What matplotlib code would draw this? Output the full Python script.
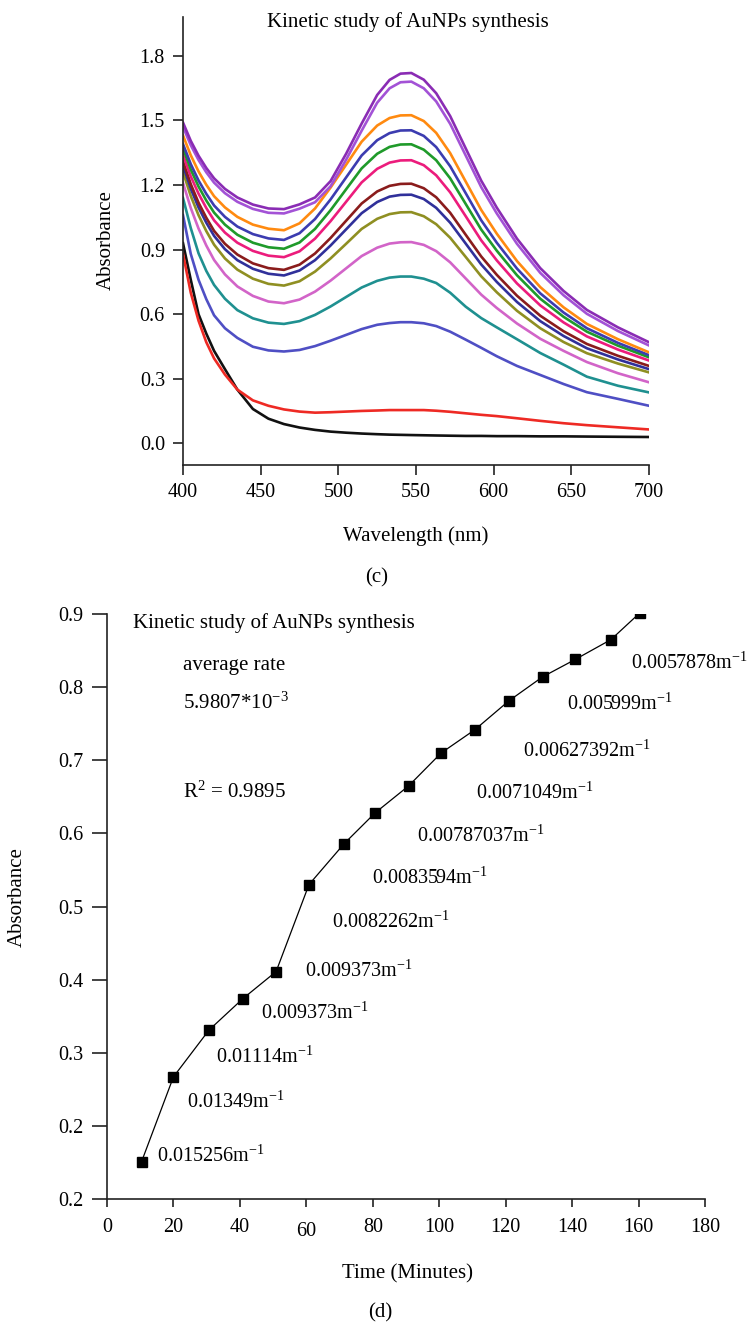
import matplotlib
matplotlib.use("Agg")
import matplotlib.pyplot as plt
import matplotlib.transforms as mtransforms

plt.rcParams['font.family'] = ['Liberation Serif', 'DejaVu Serif']
plt.rcParams['mathtext.fontset'] = 'custom'
plt.rcParams['mathtext.rm'] = 'Liberation Serif'
plt.rcParams['mathtext.it'] = 'Liberation Serif:italic'

# ---- panel (c): UV-vis spectra ----
WAVELENGTH = [400, 405, 410, 415, 420, 427, 435, 445, 455, 465,
              475, 485, 495, 505, 515, 525, 533, 540, 547, 555,
              563, 572, 582, 592, 602, 615, 630, 645, 660, 680, 700]

black_spec = [0.93, 0.76, 0.60, 0.51, 0.43, 0.345, 0.25, 0.16, 0.115, 0.09,
              0.074, 0.063, 0.055, 0.05, 0.046, 0.043, 0.041, 0.04, 0.039, 0.038,
              0.037, 0.036, 0.035, 0.035, 0.034, 0.034, 0.033, 0.033, 0.032, 0.031, 0.03]
red_spec = [0.88, 0.70, 0.57, 0.47, 0.395, 0.32, 0.25, 0.20, 0.175, 0.158,
            0.148, 0.143, 0.145, 0.148, 0.151, 0.153, 0.155, 0.155, 0.155, 0.155,
            0.152, 0.147, 0.14, 0.133, 0.127, 0.117, 0.105, 0.094, 0.085, 0.075, 0.065]
slate_spec = [1.06, 0.88, 0.76, 0.67, 0.595, 0.535, 0.49, 0.449, 0.432, 0.427,
              0.434, 0.452, 0.477, 0.504, 0.531, 0.551, 0.559, 0.563, 0.563, 0.558,
              0.545, 0.519, 0.482, 0.444, 0.405, 0.36, 0.318, 0.276, 0.238, 0.207, 0.175]
teal_spec = [1.14, 1.0, 0.883, 0.801, 0.736, 0.672, 0.619, 0.581, 0.561, 0.555,
             0.568, 0.597, 0.636, 0.68, 0.724, 0.755, 0.77, 0.775, 0.775, 0.765,
             0.745, 0.70, 0.635, 0.582, 0.539, 0.484, 0.42, 0.366, 0.31, 0.268, 0.237]
orchid_spec = [1.21, 1.093, 0.998, 0.919, 0.852, 0.785, 0.729, 0.685, 0.659, 0.651,
               0.668, 0.705, 0.756, 0.813, 0.870, 0.909, 0.928, 0.934, 0.935, 0.922,
               0.893, 0.841, 0.766, 0.691, 0.629, 0.557, 0.486, 0.43, 0.378, 0.326, 0.284]
olive_spec = [1.26, 1.149, 1.06, 0.986, 0.923, 0.859, 0.807, 0.765, 0.741, 0.733,
              0.753, 0.798, 0.859, 0.927, 0.996, 1.043, 1.065, 1.073, 1.074, 1.055,
              1.018, 0.955, 0.866, 0.776, 0.702, 0.616, 0.535, 0.471, 0.419, 0.371, 0.33]
navy2_spec = [1.29, 1.183, 1.096, 1.025, 0.964, 0.902, 0.851, 0.811, 0.788, 0.78,
              0.803, 0.851, 0.919, 0.994, 1.069, 1.121, 1.146, 1.154, 1.155, 1.135,
              1.094, 1.025, 0.928, 0.831, 0.75, 0.657, 0.568, 0.499, 0.442, 0.39, 0.345]
maroon_spec = [1.31, 1.204, 1.118, 1.048, 0.987, 0.927, 0.877, 0.836, 0.814, 0.806,
               0.830, 0.882, 0.954, 1.034, 1.114, 1.170, 1.196, 1.205, 1.206, 1.185,
               1.143, 1.071, 0.969, 0.868, 0.783, 0.686, 0.593, 0.521, 0.462, 0.407, 0.36]
pink_spec = [1.34, 1.240, 1.160, 1.093, 1.036, 0.979, 0.932, 0.894, 0.872, 0.865,
             0.892, 0.951, 1.032, 1.122, 1.212, 1.275, 1.304, 1.314, 1.315, 1.292,
             1.245, 1.166, 1.055, 0.943, 0.85, 0.743, 0.641, 0.562, 0.497, 0.436, 0.385]
green_spec = [1.37, 1.272, 1.193, 1.128, 1.072, 1.016, 0.969, 0.932, 0.911, 0.904,
              0.933, 0.996, 1.083, 1.180, 1.277, 1.345, 1.377, 1.388, 1.389, 1.364,
              1.315, 1.231, 1.112, 0.993, 0.895, 0.781, 0.672, 0.588, 0.519, 0.454, 0.40]
navy1_spec = [1.39, 1.297, 1.221, 1.159, 1.105, 1.052, 1.007, 0.972, 0.952, 0.945,
              0.976, 1.042, 1.133, 1.235, 1.337, 1.408, 1.441, 1.453, 1.454, 1.428,
              1.376, 1.287, 1.162, 1.036, 0.932, 0.812, 0.697, 0.608, 0.535, 0.467, 0.41]
orange_spec = [1.43, 1.338, 1.263, 1.201, 1.148, 1.096, 1.052, 1.016, 0.997, 0.99,
               1.022, 1.091, 1.188, 1.294, 1.401, 1.476, 1.511, 1.523, 1.524, 1.497,
               1.442, 1.348, 1.216, 1.084, 0.974, 0.847, 0.726, 0.632, 0.555, 0.484, 0.423]
purple2_spec = [1.47, 1.385, 1.316, 1.259, 1.211, 1.162, 1.122, 1.089, 1.071, 1.068,
                1.090, 1.120, 1.194, 1.317, 1.452, 1.582, 1.649, 1.677, 1.68, 1.649,
                1.588, 1.484, 1.337, 1.19, 1.068, 0.927, 0.792, 0.688, 0.602, 0.522, 0.455]
purple1_spec = [1.49, 1.405, 1.336, 1.279, 1.231, 1.182, 1.142, 1.109, 1.091, 1.088,
                1.110, 1.142, 1.218, 1.345, 1.485, 1.618, 1.688, 1.717, 1.72, 1.689,
                1.626, 1.52, 1.37, 1.22, 1.095, 0.951, 0.814, 0.708, 0.62, 0.539, 0.47]

SPECTRA = [black_spec, red_spec, slate_spec, teal_spec, orchid_spec, olive_spec,
           navy2_spec, maroon_spec, pink_spec, green_spec, navy1_spec,
           orange_spec, purple2_spec, purple1_spec]
SPEC_COLORS = ['#111111', '#ee2a24', '#4f4fc4', '#1f9090', '#d264c8', '#8f8f22',
               '#30309a', '#8a1c1c', '#ec1c7c', '#1f9a2a', '#3c3cb0',
               '#ff8a10', '#a352d6', '#8a2cb4']

# ---- panel (d): kinetics ----
TIME_MIN = [10.4, 20.0, 30.7, 40.9, 50.9, 60.8, 71.4, 80.7, 90.8, 100.6,
            110.8, 120.9, 131.1, 141.0, 151.7, 160.5]
ABSORB = [0.151, 0.267, 0.331, 0.374, 0.411, 0.530, 0.586, 0.628, 0.665, 0.710,
          0.742, 0.781, 0.814, 0.838, 0.865, 0.902]

RATE_LABELS = ['0.015256', '0.01349', '0.01114', '0.009373', '0.009373',
               '0.0082262', '0.0083594', '0.00787037', '0.0071049',
               '0.00627392', '0.005999', '0.0057878']
RATE_POS = [(15.0, 0.158), (24.0, 0.233), (32.8, 0.294), (46.4, 0.354),
            (59.6, 0.412), (67.6, 0.479), (79.8, 0.539), (93.4, 0.596),
            (111.0, 0.655), (125.3, 0.713), (138.6, 0.777), (157.6, 0.8325)]

X_TICKS_D = [0, 20, 40, 60, 80, 100, 120, 140, 160, 180]
Y_TICKS_D = [0.1, 0.2, 0.3, 0.4, 0.5, 0.6, 0.7, 0.8, 0.9]
Y_TICKLABELS_D = ['0.2', '0.2', '0.3', '0.4', '0.5', '0.6', '0.7', '0.8', '0.9']

W, H = 751, 1322
FS = 15
TICK_FS = 14.5


def style_axes(ax, ytick_len, xtick_len):
    for side in ('top', 'right'):
        ax.spines[side].set_visible(False)
    for side in ('left', 'bottom'):
        ax.spines[side].set_linewidth(1.2)
        ax.spines[side].set_color('#222222')
    ax.tick_params(axis='y', direction='out', length=ytick_len, width=1.2,
                   pad=6, labelsize=TICK_FS, color='#222222')
    ax.tick_params(axis='x', direction='out', length=xtick_len, width=1.2,
                   pad=6, labelsize=TICK_FS, color='#222222')


fig = plt.figure(figsize=(W / 100, H / 100), dpi=100)

# panel (c)
ax1 = fig.add_axes([183 / W, 1 - 465 / H, 466 / W, 448 / H])
for spec, col in zip(SPECTRA, SPEC_COLORS):
    ax1.plot(WAVELENGTH, spec, color=col, lw=1.9, solid_joinstyle='round')
ax1.set_xlim(400, 700)
ax1.set_ylim(-0.1, 1.98)
ax1.set_xticks([400, 450, 500, 550, 600, 650, 700])
ax1.set_yticks([0.0, 0.3, 0.6, 0.9, 1.2, 1.5, 1.8])
ax1.set_yticklabels(['0.0', '0.3', '0.6', '0.9', '1.2', '1.5', '1.8'])
style_axes(ax1, 7, 7)
ax1.set_xlabel('Wavelength (nm)', fontsize=FS)
ax1.xaxis.set_label_coords(0.5, -0.136)
ax1.set_ylabel('Absorbance', fontsize=FS)
ax1.yaxis.set_label_coords(-0.144, 0.502)
fig.text(408 / W, 1 - 22 / H, 'Kinetic study of AuNPs synthesis',
         ha='center', va='center', fontsize=FS)
fig.text(377 / W, 1 - 578 / H, '(c)', ha='center', va='center', fontsize=FS)

# panel (d)
ax2 = fig.add_axes([107 / W, 1 - 1199 / H, 598 / W, 585 / H])
ax2.plot(TIME_MIN, ABSORB, color='black', lw=0.9, marker='s', ms=7.5,
         markerfacecolor='black', markeredgecolor='black')
ax2.set_xlim(0, 180)
ax2.set_ylim(0.1, 0.9)
ax2.set_xticks(X_TICKS_D)
ax2.set_yticks(Y_TICKS_D)
ax2.set_yticklabels(Y_TICKLABELS_D)
style_axes(ax2, 11, 6)
ax2.tick_params(axis='x', pad=8)
# the "60" label sits a little lower in the original
for lab in ax2.get_xticklabels():
    if lab.get_text() == '60':
        lab.set_transform(lab.get_transform() + mtransforms.ScaledTranslation(
            0, -4 / 100, fig.dpi_scale_trans))

for txt, (tx, ty) in zip(RATE_LABELS, RATE_POS):
    ax2.text(tx, ty, txt + r'm$^{-1}$', ha='left', va='center', fontsize=14.5)

ax2.text(0.044, 0.985, 'Kinetic study of AuNPs synthesis', transform=ax2.transAxes,
         ha='left', va='center', fontsize=FS)
ax2.text(0.1276, 0.9116, 'average rate', transform=ax2.transAxes,
         ha='left', va='center', fontsize=FS)
ax2.text(0.1276, 0.847, r'5.9807*10$^{-3}$', transform=ax2.transAxes,
         ha='left', va='center', fontsize=FS)
ax2.text(0.1276, 0.696, r'R$^2$ = 0.9895', transform=ax2.transAxes,
         ha='left', va='center', fontsize=FS)

ax2.set_xlabel('Time (Minutes)', fontsize=FS)
ax2.xaxis.set_label_coords(0.5017, -0.111)
ax2.set_ylabel('Absorbance', fontsize=FS)
ax2.yaxis.set_label_coords(-0.134, 0.516)
fig.text(380 / W, 1 - 1313 / H, '(d)', ha='center', va='center', fontsize=FS)

fig.savefig('out.png', dpi=100)
